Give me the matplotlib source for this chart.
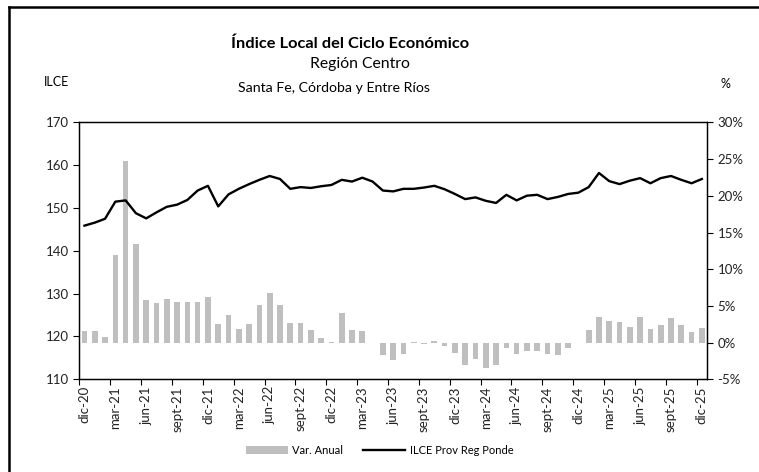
import numpy as np
import matplotlib
matplotlib.use("Agg")
import matplotlib.pyplot as plt
from matplotlib.patches import Patch
from matplotlib.lines import Line2D

plt.rcParams['font.family'] = ['Lato', 'DejaVu Sans']

# meses dic-20 .. dic-25
meses = ['dic', 'ene', 'feb', 'mar', 'abr', 'may', 'jun', 'jul', 'ago', 'sept', 'oct', 'nov']
fechas = []
for k in range(61):
    m = k % 12
    anio = 20 + (k + 11) // 12
    fechas.append(f"{meses[m]}-{anio:02d}")

# ILCE Prov Reg Ponde (eje izquierdo)
ilce = [145.9, 146.6, 147.5, 151.5, 151.8, 148.8, 147.6, 149.0, 150.3, 150.8,
        151.9, 154.1, 155.2, 150.4, 153.2, 154.5, 155.6, 156.6, 157.5, 156.8,
        154.5, 154.9, 154.7, 155.1, 155.4, 156.6, 156.2, 157.1, 156.2, 154.1,
        153.9, 154.5, 154.5, 154.8, 155.2, 154.4, 153.3, 152.1, 152.5, 151.7,
        151.2, 153.1, 151.8, 152.9, 153.1, 152.1, 152.6, 153.3, 153.6, 154.9,
        158.2, 156.3, 155.6, 156.4, 157.0, 155.8, 157.0, 157.5, 156.6, 155.8,
        156.8]

# Var. Anual % (eje derecho)
var_anual = [1.6, 1.6, 0.8, 12.0, 24.7, 13.5, 5.8, 5.4, 6.0, 5.5,
             5.5, 5.6, 6.2, 2.5, 3.8, 1.9, 2.5, 5.1, 6.7, 5.1,
             2.7, 2.7, 1.7, 0.6, 0.1, 4.0, 1.7, 1.6, -0.1, -1.7,
             -2.4, -1.5, 0.1, -0.2, 0.2, -0.5, -1.4, -3.0, -2.2, -3.4,
             -3.1, -0.7, -1.5, -1.1, -1.1, -1.6, -1.7, -0.7, -0.1, 1.7,
             3.5, 3.0, 2.8, 2.1, 3.5, 1.9, 2.4, 3.4, 2.4, 1.5,
             2.0]

x = np.arange(len(fechas))

fig = plt.figure(figsize=(7.59, 4.72), dpi=100)
ax = fig.add_axes([0.1045, 0.1964, 0.8270, 0.5441])
ax2 = ax.twinx()

ax2.bar(x, var_anual, width=0.55, color='#BFBFBF', zorder=1)
ax.plot(x, ilce, color='black', lw=1.7, zorder=3)
ax.set_zorder(ax2.get_zorder() + 1)
ax.patch.set_visible(False)

ax.set_xlim(-0.5, len(x) - 0.5)
ax.set_ylim(110, 170)
ax.set_yticks(range(110, 171, 10))
ax2.set_ylim(-5, 30)
ax2.set_yticks(range(-5, 31, 5))
ax2.set_yticklabels([f"{v}%" for v in range(-5, 31, 5)])

# marcas entre categorias, etiquetas centradas
ax.set_xticks(np.arange(-0.5, len(x), 3))
ax.set_xticklabels([])
ax.set_xticks(x[::3], minor=True)
ax.set_xticklabels([fechas[i] for i in x[::3]], minor=True, rotation=90, fontsize=9.5, color='#222222')
ax.tick_params(axis='x', which='major', length=4, width=0.8, direction='out')
ax.tick_params(axis='x', which='minor', length=0, pad=5)
ax.tick_params(axis='y', length=4, width=0.8, labelsize=9.5, labelcolor='#222222')
ax2.tick_params(axis='y', length=4, width=0.8, labelsize=9.5, labelcolor='#222222')

for a in (ax, ax2):
    for s in a.spines.values():
        s.set_linewidth(0.9)

fig.text(0.461, 0.907, 'Índice Local del Ciclo Económico', ha='center', va='center',
         fontsize=11.8, fontweight='bold')
fig.text(0.474, 0.864, 'Región Centro', ha='center', va='center', fontsize=11.3)
fig.text(0.440, 0.814, 'Santa Fe, Córdoba y Entre Ríos', ha='center', va='center', fontsize=10.2)
fig.text(0.075, 0.826, 'ILCE', ha='center', va='center', fontsize=9)
fig.text(0.956, 0.822, '%', ha='center', va='center', fontsize=9)

handles = [Patch(facecolor='#BFBFBF', edgecolor='none'),
           Line2D([], [], color='black', lw=1.7)]
fig.legend(handles, ['Var. Anual', 'ILCE Prov Reg Ponde'], loc='center',
           bbox_to_anchor=(0.50, 0.046), ncol=2, frameon=False, fontsize=8,
           handlelength=3.8, handletextpad=0.4, columnspacing=1.8)

# marco del grafico
fig.add_artist(Line2D([0.012, 0.012], [0.0, 0.985], color='black', lw=1.8, transform=fig.transFigure))
fig.add_artist(Line2D([0.012, 1.0], [0.985, 0.985], color='black', lw=1.8, transform=fig.transFigure))

fig.savefig('out.png', dpi=100)
